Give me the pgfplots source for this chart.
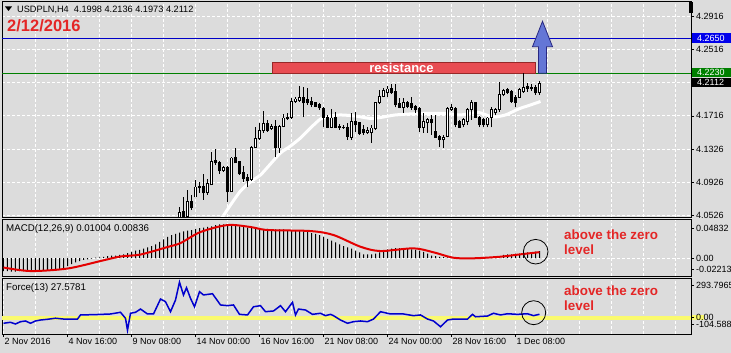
\documentclass[border=0pt]{standalone}
\usepackage{pgfplots}
\pgfplotsset{compat=1.18}
\usepackage{pgfplotstable}
\usepackage{fontspec}
\setmainfont{Liberation Sans}

\definecolor{bg}{RGB}{220,220,220}
\definecolor{mtred}{RGB}{228,38,38}
\definecolor{sigred}{RGB}{228,0,0}
\definecolor{lineblue}{RGB}{0,0,200}
\definecolor{boxblue}{RGB}{0,0,235}
\definecolor{forceblue}{RGB}{0,0,205}
\definecolor{mtgreen}{RGB}{0,128,0}
\definecolor{mtyellow}{RGB}{250,250,110}
\definecolor{resfill}{RGB}{232,76,82}
\definecolor{resdraw}{RGB}{150,40,40}
\definecolor{arrowfill}{RGB}{100,118,214}
\definecolor{arrowdraw}{RGB}{40,40,130}

% price candles: x position, open, high, low, close
\pgfplotstableread{
x o h l c
179 4.0492 4.0613 4.0480 4.0541
183 4.0553 4.0734 4.0480 4.0504
187 4.0504 4.0819 4.0492 4.0674
191 4.0674 4.0759 4.0577 4.0601
195 4.0734 4.0940 4.0734 4.0855
199 4.0867 4.0916 4.0783 4.0843
203 4.0867 4.1013 4.0698 4.0783
207 4.0783 4.0952 4.0759 4.0892
211 4.0880 4.1279 4.0880 4.1158
215 4.1170 4.1315 4.1122 4.1146
219 4.1146 4.1170 4.1013 4.1049
223 4.1049 4.1109 4.1037 4.1085
227 4.1097 4.1109 4.0674 4.0795
231 4.0795 4.1218 4.0795 4.1206
235 4.1218 4.1327 4.1146 4.1146
239 4.1158 4.1170 4.1001 4.1013
243 4.1025 4.1109 4.0916 4.0952
247 4.0964 4.1013 4.0855 4.0928
251 4.0940 4.1351 4.0928 4.1339
255 4.1339 4.1581 4.1339 4.1436
259 4.1436 4.1630 4.1424 4.1533
263 4.1533 4.1775 4.1509 4.1618
267 4.1618 4.1666 4.1521 4.1533
271 4.1557 4.1618 4.1545 4.1593
275 4.1593 4.1666 4.1218 4.1327
279 4.1327 4.1606 4.1267 4.1593
283 4.1593 4.1739 4.1581 4.1690
287 4.1702 4.1751 4.1666 4.1678
291 4.1702 4.1932 4.1678 4.1884
295 4.1884 4.1944 4.1872 4.1920
299 4.1896 4.2077 4.1884 4.1944
303 4.1944 4.2065 4.1702 4.1872
307 4.1920 4.2053 4.1848 4.1872
311 4.1884 4.1944 4.1823 4.1848
315 4.1872 4.1884 4.1823 4.1835
319 4.1848 4.1872 4.1787 4.1811
323 4.1811 4.1823 4.1581 4.1702
327 4.1702 4.1727 4.1569 4.1581
331 4.1581 4.1799 4.1569 4.1690
335 4.1702 4.1763 4.1569 4.1581
339 4.1593 4.1618 4.1545 4.1581
343 4.1581 4.1606 4.1557 4.1575
347 4.1581 4.1630 4.1424 4.1472
351 4.1460 4.1751 4.1424 4.1642
355 4.1642 4.1763 4.1521 4.1606
359 4.1630 4.1642 4.1485 4.1497
363 4.1545 4.1606 4.1485 4.1509
367 4.1509 4.1581 4.1497 4.1533
371 4.1509 4.1606 4.1388 4.1569
375 4.1557 4.1884 4.1545 4.1872
379 4.1872 4.2029 4.1860 4.1956
383 4.1956 4.2053 4.1944 4.2017
387 4.1993 4.2077 4.1944 4.2041
391 4.2053 4.2102 4.1981 4.1993
395 4.2005 4.2102 4.1823 4.1848
399 4.1860 4.1932 4.1811 4.1823
403 4.1823 4.1932 4.1751 4.1872
407 4.1872 4.1896 4.1811 4.1835
411 4.1860 4.1944 4.1787 4.1811
415 4.1835 4.1848 4.1751 4.1787
419 4.1811 4.1823 4.1521 4.1581
423 4.1581 4.1751 4.1509 4.1642
427 4.1630 4.1690 4.1509 4.1666
431 4.1666 4.1727 4.1485 4.1630
435 4.1521 4.1727 4.1448 4.1460
439 4.1472 4.1485 4.1339 4.1424
443 4.1424 4.1485 4.1327 4.1460
447 4.1472 4.1823 4.1460 4.1799
451 4.1787 4.1860 4.1775 4.1823
455 4.1811 4.1823 4.1581 4.1606
459 4.1642 4.1666 4.1569 4.1581
463 4.1606 4.1690 4.1581 4.1666
467 4.1642 4.1811 4.1606 4.1787
471 4.1787 4.1908 4.1666 4.1872
475 4.1872 4.1884 4.1690 4.1702
479 4.1702 4.1714 4.1581 4.1606
483 4.1666 4.1690 4.1581 4.1606
487 4.1606 4.1702 4.1581 4.1690
491 4.1702 4.1823 4.1581 4.1787
495 4.1751 4.1811 4.1727 4.1787
499 4.1787 4.2126 4.1763 4.1969
503 4.1969 4.2041 4.1956 4.2017
507 4.2029 4.2053 4.1981 4.1993
511 4.2005 4.2029 4.1872 4.1884
515 4.1944 4.1969 4.1823 4.1872
519 4.1944 4.2053 4.1932 4.2029
523 4.2005 4.2235 4.1993 4.2065
527 4.2077 4.2114 4.2005 4.2041
531 4.2065 4.2102 4.2017 4.2041
535 4.2065 4.2090 4.1969 4.1993
539 4.1998 4.2136 4.1973 4.2112
}\candles

\pgfplotstableread{
x y
220 4.0455
230 4.0637
240 4.0807
250 4.0916
260 4.1001
270 4.1134
280 4.1267
290 4.1351
300 4.1448
310 4.1569
320 4.1678
330 4.1714
340 4.1727
355 4.1714
370 4.1684
380 4.1696
395 4.1727
420 4.1745
445 4.1745
460 4.1727
478 4.1757
492 4.1702
505 4.1727
518 4.1799
530 4.1848
540 4.1890
}\ma

\pgfplotstableread{
x y
3 -0.0187
7 -0.0187
11 -0.0196
15 -0.0196
19 -0.0187
23 -0.0187
27 -0.0196
31 -0.0196
35 -0.0187
39 -0.0187
43 -0.0187
47 -0.0178
51 -0.0178
55 -0.0169
59 -0.0160
63 -0.0143
67 -0.0116
71 -0.0089
75 -0.0062
79 -0.0045
83 -0.0027
87 -0.0018
91 -0.0009
95 0.0004
99 0.0009
103 0.0018
107 0.0027
111 0.0036
115 0.0036
119 0.0045
123 0.0053
127 0.0071
131 0.0089
135 0.0107
139 0.0116
143 0.0134
147 0.0151
151 0.0169
155 0.0196
159 0.0232
163 0.0267
167 0.0303
171 0.0330
175 0.0347
179 0.0365
183 0.0383
187 0.0392
191 0.0401
195 0.0419
199 0.0428
203 0.0437
207 0.0446
211 0.0454
215 0.0472
219 0.0481
223 0.0483
227 0.0481
231 0.0472
235 0.0472
239 0.0454
243 0.0446
247 0.0437
251 0.0428
255 0.0428
259 0.0419
263 0.0419
267 0.0419
271 0.0410
275 0.0410
279 0.0410
283 0.0410
287 0.0401
291 0.0401
295 0.0401
299 0.0392
303 0.0383
307 0.0374
311 0.0356
315 0.0347
319 0.0330
323 0.0303
327 0.0276
331 0.0249
335 0.0223
339 0.0196
343 0.0169
347 0.0151
351 0.0134
355 0.0107
359 0.0080
363 0.0053
367 0.0053
371 0.0053
375 0.0062
379 0.0080
383 0.0107
387 0.0125
391 0.0134
395 0.0143
399 0.0143
403 0.0134
407 0.0134
411 0.0125
415 0.0116
419 0.0107
423 0.0089
427 0.0062
431 0.0036
435 0.0027
439 0.0018
443 0.0018
447 0.0009
451 0.0000
455 -0.0009
459 -0.0009
463 -0.0009
467 -0.0009
471 -0.0009
475 0.0000
479 0.0000
483 0.0002
487 0.0009
491 0.0009
495 0.0018
499 0.0027
503 0.0045
507 0.0053
511 0.0053
515 0.0062
519 0.0062
523 0.0071
527 0.0080
531 0.0085
535 0.0090
539 0.0100
}\macdhist

\pgfplotstableread{
x y
3 -0.0136
30 -0.0187
67 -0.0151
100 -0.0043
120 0.0022
140 0.0050
167 0.0158
180 0.0215
200 0.0373
227 0.0473
250 0.0445
267 0.0402
310 0.0387
333 0.0330
360 0.0162
380 0.0100
413 0.0139
433 0.0082
453 0.0004
473 -0.0004
500 0.0019
520 0.0053
539 0.0084
}\macdsig

\pgfplotstableread{
x y
3 -47
10 -39
15 -53
20 -34
25 -28
30 -47
35 -28
40 -20
47 -14
55 -5
63 -12
77 -12
80 22
95 25
110 30
120 44
125 -6
127 -104.6
130 36
135 44
140 71
147 30
153 30
160 154
165 132
170 49
175 146
179 293.8
183 188
186 248
190 160
194 90
199 215
203 188
212 198
220 105
227 99
233 105
239 27
247 22
253 90
260 99
265 49
273 55
280 99
285 49
292 127
295 22
298 71
305 63
312 27
320 36
325 16
330 27
333 16
340 -20
347 -47
353 -34
360 -28
367 -34
373 -12
380 49
390 30
403 30
413 16
420 22
427 -12
433 -28
440 -76
447 -20
453 -12
467 -12
472 27
475 7
487 13
493 36
500 22
507 32
517 27
527 32
533 16
539 27.6
}\force

\pgfplotsset{
  mtpanel/.style={
    scale only axis, width=689pt, xmin=1.5, xmax=690.5,
    enlargelimits=false, anchor=south west,
    scaled y ticks=false, scaled x ticks=false,
    axis background/.style={fill=bg},
    axis line style={black, line width=0.9pt},
    xtick={67,131,...,643}, minor xtick={35,99,...,675},
    xticklabels={}, xtick style={draw=none},
    xmajorgrids=true, xminorgrids=true, ymajorgrids=true,
    major grid style={white, line width=0.8pt, dash pattern=on 3pt off 2pt},
    minor grid style={white, line width=0.8pt, dash pattern=on 3pt off 2pt},
    minor tick length=0pt, major tick length=3pt, tick align=outside,
    ytick pos=right, yticklabel pos=right,
    ytick style={black, line width=0.6pt},
    tick label style={font=\fontsize{9}{10}\selectfont, text=black},
    yticklabel style={anchor=west, inner sep=2pt},
    extra y tick style={grid=none},
  },
  candlebar/.style={only marks, mark=none, mark size=0pt, forget plot,
    error bars/.cd, y dir=plus, y explicit, error mark=none},
}

\begin{document}
\begin{tikzpicture}
\fill[bg] (0pt,0pt) rectangle (731pt,353pt);
\fill[mtyellow] (691pt,33.2pt) rectangle (704pt,37.8pt);

% ---------------- main price panel ----------------
\begin{axis}[mtpanel, at={(2pt,136pt)}, height=216pt,
  ymin=4.0492, ymax=4.3106,
  ytick={4.0516,4.0916,4.1316,4.1716,4.2116,4.2516,4.2916},
  yticklabels={4.0526,4.0926,4.1326,4.1716,{},4.2516,4.2916}]
\addplot[lineblue, line width=1pt] coordinates {(1.5,4.2650) (690.5,4.2650)};
\addplot[mtgreen, line width=1pt] coordinates {(1.5,4.2230) (690.5,4.2230)};
\fill[resfill] (axis cs:272,4.2230) rectangle (axis cs:535,4.2362);
\draw[resdraw, line width=0.8pt] (axis cs:272,4.2230) rectangle (axis cs:535,4.2362);
\node[text=white, font=\fontsize{13}{14}\selectfont\bfseries, inner sep=0pt] at (axis cs:401,4.2298) {resistance};
\addplot[white, line width=3pt, smooth, tension=0.4] table {\ma};
% wicks
\addplot[candlebar, error bar style={line width=1pt, black}]
  table[x=x, y=l, y error expr={\thisrow{h}-\thisrow{l}}] {\candles};
% bodies
\addplot[candlebar, error bar style={line width=3pt, black}]
  table[x=x, y expr={min(\thisrow{o},\thisrow{c})-0.0006}, y error expr={abs(\thisrow{c}-\thisrow{o})+0.0012}] {\candles};
% hollow (rising) bodies
\addplot[candlebar, error bar style={line width=1pt, white}]
  table[x=x, y expr={\thisrow{o}+0.0006}, y error expr={max(\thisrow{c}-\thisrow{o}-0.0012,0)}] {\candles};
\filldraw[fill=arrowfill, draw=arrowdraw, line width=0.8pt]
  (axis cs:538,4.2232) -- (axis cs:538,4.2553) -- (axis cs:532,4.2553) -- (axis cs:542,4.2860)
  -- (axis cs:552,4.2553) -- (axis cs:546,4.2553) -- (axis cs:546,4.2232) -- cycle;
\end{axis}

% ---------------- MACD panel ----------------
\begin{axis}[mtpanel, at={(2pt,77pt)}, height=57pt,
  ymin=-0.0258, ymax=0.0560,
  ytick={0}, yticklabels={0.00},
  extra y ticks={0.0430,-0.0158}, extra y tick labels={0.04832,-0.02213}]
\addplot[ybar, bar width=1pt, fill=black, draw=none] table {\macdhist};
\addplot[sigred, line width=2pt, smooth, tension=0.5] table {\macdsig};
\end{axis}

% ---------------- Force panel ----------------
\begin{axis}[mtpanel, at={(2pt,19pt)}, height=56pt,
  ymin=-136.1, ymax=328.7,
  ytick={0}, yticklabels={0.00},
  extra y ticks={265,-55.6}, extra y tick labels={293.7965,-104.588},
  xtick={3,67,...,515},
  xticklabels={2 Nov 2016,4 Nov 16:00,9 Nov 08:00,14 Nov 00:00,16 Nov 16:00,21 Nov 08:00,24 Nov 00:00,28 Nov 16:00,1 Dec 08:00},
  minor xtick={35,99,163,227,291,355,419,483,547,579,611,643,675},
  xtick style={draw=black, line width=0.6pt}, xtick pos=left,
  xticklabel style={anchor=north west, inner sep=1pt}]
\addplot[mtyellow, line width=4pt] coordinates {(1.5,0) (690.5,0)};
\addplot[forceblue, line width=1.5pt] table {\force};
\end{axis}

% ---------------- texts and marks ----------------
\fill[black] (689pt,340pt) rectangle (693pt,351pt);
\fill[black] (5pt,346.5pt) -- (12pt,346.5pt) -- (8.5pt,342pt) -- cycle;
\node[anchor=west, inner sep=0pt, font=\fontsize{9.2}{10}\selectfont] at (17pt,343pt) {USDPLN,H4\ \ 4.1998 4.2136 4.1973 4.2112};
\node[anchor=west, inner sep=0pt, text=mtred, font=\fontsize{16.5}{18}\selectfont\bfseries] at (7pt,327pt) {2/12/2016};
\node[anchor=west, inner sep=0pt, font=\fontsize{9.7}{11}\selectfont] at (6pt,124pt) {MACD(12,26,9) 0.01004 0.00836};
\node[anchor=west, inner sep=0pt, font=\fontsize{9.7}{11}\selectfont] at (6pt,65pt) {Force(13) 27.5781};

% price boxes on the right scale
\fill[boxblue] (692pt,309.5pt) rectangle (731pt,319.7pt);
\node[anchor=west, inner sep=0pt, text=white, font=\fontsize{9}{10}\selectfont] at (697pt,314.5pt) {4.2650};
\fill[mtgreen] (692pt,275.7pt) rectangle (731pt,284.7pt);
\node[anchor=west, inner sep=0pt, text=white, font=\fontsize{9}{10}\selectfont] at (697pt,280.2pt) {4.2230};
\fill[black] (692pt,265.7pt) rectangle (731pt,274.7pt);
\node[anchor=west, inner sep=0pt, text=white, font=\fontsize{9}{10}\selectfont] at (697pt,270.2pt) {4.2112};

% annotations
\draw[black, line width=0.8pt] (535.7pt,101.3pt) circle (12.3pt);
\draw[black, line width=0.8pt] (533.7pt,40.3pt) circle (12pt);
\node[anchor=west, inner sep=0pt, text=mtred, font=\fontsize{13.4}{15}\selectfont\bfseries] at (564pt,118pt) {above the zero};
\node[anchor=west, inner sep=0pt, text=mtred, font=\fontsize{13.4}{15}\selectfont\bfseries] at (564pt,103pt) {level};
\node[anchor=west, inner sep=0pt, text=mtred, font=\fontsize{13.4}{15}\selectfont\bfseries] at (564pt,62pt) {above the zero};
\node[anchor=west, inner sep=0pt, text=mtred, font=\fontsize{13.4}{15}\selectfont\bfseries] at (564pt,47pt) {level};

\pgfresetboundingbox
\useasboundingbox (0pt,0pt) rectangle (731pt,353pt);
\end{tikzpicture}
\end{document}
